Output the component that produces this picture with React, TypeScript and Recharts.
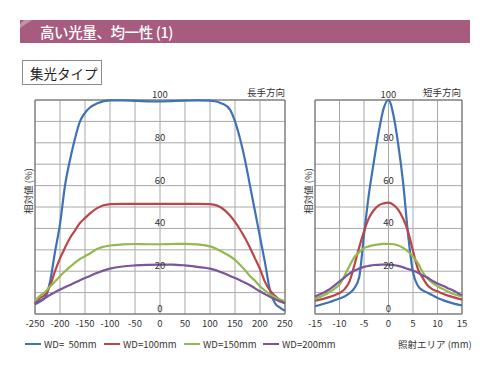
import React from 'react';
import { LineChart, Line, XAxis, YAxis, CartesianGrid, ReferenceArea } from 'recharts';

const longX = [-250, -240, -230, -220, -210, -200, -190, -180, -170, -160, -150, -140, -125, -100, -75, -50, -25, 0, 25, 50, 75, 100, 125, 140, 150, 160, 170, 180, 190, 200, 210, 220, 230, 240, 250];
const longWD50 = [4.5, 5.8, 7.5, 15, 29, 42, 60, 72, 82, 90, 94, 96.5, 98.5, 99.8, 99.8, 99.6, 99.4, 99.3, 99.5, 99.7, 99.8, 99.7, 98.3, 95.5, 90, 82, 72, 60, 48, 36, 24, 11, 5, 3, 1.5];
const longWD100 = [5.1, 7.5, 9, 13, 20, 26, 31, 35.5, 39, 42.5, 44.8, 47, 49.6, 51.3, 51.5, 51.5, 51.5, 51.5, 51.5, 51.5, 51.5, 51.3, 49.3, 46, 43, 39.5, 35.5, 31, 26, 21, 15, 11, 8.5, 6.5, 5];
const longWD150 = [6.2, 8.5, 10.3, 12.8, 15.2, 17.6, 20, 22, 24, 25.7, 27, 28.3, 30.5, 32, 32.5, 32.7, 32.6, 32.6, 32.7, 32.8, 32.5, 31.6, 29, 27, 25.3, 23, 20.5, 17.8, 15.5, 13, 11, 9.2, 7.8, 6.8, 5.9];
const longWD200 = [4.7, 6.2, 7.5, 8.9, 10.2, 11.4, 12.5, 13.6, 14.7, 15.8, 16.8, 17.8, 19.3, 21.2, 22.2, 22.7, 23, 23.1, 23.1, 22.7, 22, 21.2, 19.3, 17.8, 16.8, 15.8, 14.6, 13.4, 12, 10.6, 9.3, 8, 6.9, 5.9, 5.1];

const shortX = [-15, -14, -13, -12, -11, -10, -9, -8, -7, -6, -5, -4, -3, -2, -1, 0, 1, 2, 3, 4, 5, 6, 7, 8, 9, 10, 11, 12, 13, 14, 15];
const shortWD50 = [3.6, 4.2, 4.9, 5.6, 6.4, 7.2, 8.2, 9.6, 12, 17, 37, 56, 71, 85, 96, 100, 93, 79, 61, 37, 19.5, 13.2, 11, 9.9, 8.7, 7.5, 6.6, 5.8, 5.1, 4.5, 4];
const shortWD100 = [6.2, 6.7, 7.3, 8, 8.8, 9.8, 11.5, 15, 22.5, 31, 38.6, 44.8, 48.5, 50.8, 51.7, 52, 51, 48.7, 44.5, 38.5, 29.5, 21, 16.8, 13.3, 11.5, 10.6, 9.6, 8.7, 8, 7.3, 6.7];
const shortWD150 = [7.2, 8, 9, 10.3, 11.9, 13.7, 17.8, 22.3, 26.4, 28.8, 30.8, 31.6, 32.2, 32.5, 32.8, 32.8, 32.6, 32, 30.9, 29.2, 26.8, 23.8, 19.5, 16.5, 14.5, 13, 11.8, 10.6, 9.6, 8.8, 8.2];
const shortWD200 = [8.2, 9.2, 10.3, 11.6, 13.4, 15.2, 17, 18.9, 20.2, 21.2, 22, 22.5, 22.9, 23, 23.1, 23.1, 22.9, 22.5, 21.8, 21, 20.3, 19.3, 18, 16.9, 15.5, 14.2, 13.3, 12.2, 11.2, 10, 8.7];

const yTicks = [0, 10, 20, 30, 40, 50, 60, 70, 80, 90, 100];
const longTicks = [-250, -200, -150, -100, -50, 0, 50, 100, 150, 200, 250];
const shortTicks = [-15, -10, -5, 0, 5, 10, 15];
const seriesNames = ['WD=  50mm', 'WD=100mm', 'WD=150mm', 'WD=200mm'];
const seriesColors = ['#3f72b3', '#b9474a', '#93b94f', '#7b559c'];
const headerTitle = '高い光量、均一性 (1)';
const typeLabel = '集光タイプ';
const longTitle = '長手方向';
const shortTitle = '短手方向';
const yLabel = '相対値 (%)';
const xLabel = '照射エリア (mm)';

const longData = longX.map((x, i) => ({ x, s0: longWD50[i], s1: longWD100[i], s2: longWD150[i], s3: longWD200[i] }));
const shortData = shortX.map((x, i) => ({ x, s0: shortWD50[i], s1: shortWD100[i], s2: shortWD150[i], s3: shortWD200[i] }));

const FONT = '"Noto Sans CJK JP", "Noto Sans", sans-serif';

const makeYTick = (cx: number) => (props: any) => {
  const { y, payload } = props;
  if (payload.value % 20 !== 0) return <g />;
  return (
    <text x={cx} y={y - 2} textAnchor="middle" fontSize={9.5} fill="#333" fontFamily={FONT}>
      {payload.value}
    </text>
  );
};

const YLab = (lx: number) => (props: any) => {
  const vb = props.viewBox || {};
  const cy = (vb.y || 0) + (vb.height || 0) / 2 - 16;
  return (
    <text x={lx} y={cy} transform={`rotate(-90, ${lx}, ${cy})`} textAnchor="middle" dominantBaseline="central" fontSize={9.5} fill="#333" fontFamily={FONT}>
      {yLabel}
    </text>
  );
};

function Panel({ data, ticks, domain, width, centerX, left }: any) {
  return (
    <div style={{ position: 'absolute', left, top: 0 }}>
      <LineChart width={width} height={330} data={data} margin={{ top: 100, right: width === 300 ? 15 : 18, bottom: 0, left: 0 }}>
        <CartesianGrid stroke="#a8a8a8" strokeWidth={1} />
        <XAxis
          dataKey="x"
          type="number"
          domain={domain}
          ticks={ticks}
          axisLine={false}
          tickLine={false}
          tickSize={4}
          height={16}
          interval={0}
          tick={{ fontSize: 9.5, fill: '#333', fontFamily: FONT }}
        />
        <YAxis
          type="number"
          domain={[0, 100]}
          ticks={yTicks}
          width={35}
          axisLine={false}
          tickLine={false}
          interval={0}
          tick={makeYTick(centerX)}
          label={{ content: YLab(28) } as any}
        />
        <ReferenceArea x1={domain[0]} x2={domain[1]} y1={0} y2={100} fill="none" stroke="#6a6a6a" strokeWidth={1} />
        {['s0', 's1', 's2', 's3'].map((k, i) => (
          <Line key={k} dataKey={k} type="monotone" stroke={seriesColors[i]} strokeWidth={2.2} dot={false} isAnimationActive={false} />
        ))}
      </LineChart>
    </div>
  );
}

export default function App() {
  return (
    <div style={{ position: 'absolute', left: 0, top: 0, width: 490, height: 370, background: '#fff', fontFamily: FONT, overflow: 'hidden' }}>
      <div style={{ position: 'absolute', left: 20, top: 20, width: 450, height: 23, background: '#a65b7f' }}>
        <svg width={16} height={10} style={{ position: 'absolute', left: 0, top: 0 }}>
          <polygon points="4,0 12,0 0,8 0,4" fill="#c990aa" />
        </svg>
        <div style={{ position: 'absolute', left: 20, top: 0, height: 23, lineHeight: '23px', color: '#fff', fontSize: 14.5, fontWeight: 500, letterSpacing: -0.4, whiteSpace: 'pre' }}>{headerTitle}</div>
      </div>
      <div style={{ position: 'absolute', left: 22, top: 60, width: 80, height: 25, border: '1px solid #8a8a8a', boxSizing: 'border-box' }}>
        <div style={{ position: 'absolute', left: 7, top: 0, lineHeight: '24px', fontSize: 13.5, color: '#222', whiteSpace: 'pre' }}>{typeLabel}</div>
      </div>

      <Panel data={longData} ticks={longTicks} domain={[-250, 250]} width={300} centerX={160} left={0} />
      <Panel data={shortData} ticks={shortTicks} domain={[-15, 15]} width={200} centerX={108.5} left={280} />

      <div style={{ position: 'absolute', right: 490 - 285, top: 85, fontSize: 9.5, color: '#333', whiteSpace: 'pre' }}>{longTitle}</div>
      <div style={{ position: 'absolute', right: 490 - 461, top: 85, fontSize: 9.5, color: '#333', whiteSpace: 'pre' }}>{shortTitle}</div>

      {seriesNames.map((n, i) => {
        const lx = [25, 104, 184, 263][i];
        return (
          <div key={n} style={{ position: 'absolute', left: lx, top: 337, height: 14, display: 'flex', alignItems: 'center' }}>
            <div style={{ width: 16, height: 2, background: seriesColors[i], marginRight: 3 }} />
            <span style={{ fontSize: 9.5, color: '#333', whiteSpace: 'pre' }}>{n}</span>
          </div>
        );
      })}
      <div style={{ position: 'absolute', left: 398, top: 337, lineHeight: '14px', fontSize: 9.5, color: '#333', whiteSpace: 'pre' }}>{xLabel}</div>
    </div>
  );
}
